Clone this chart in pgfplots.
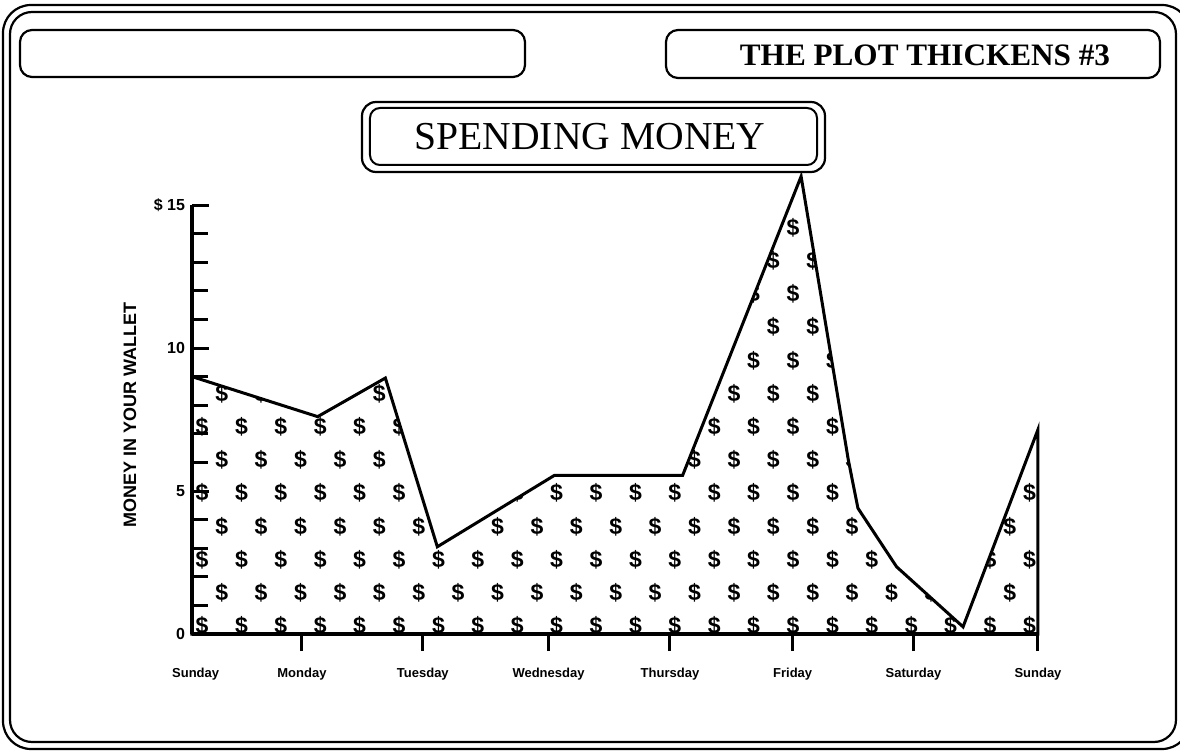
\documentclass[border=0pt]{standalone}
\usepackage{fontspec}
\setmainfont{Liberation Serif}
\newfontfamily\lsans{Liberation Sans}
\usepackage{pgfplots}
\usepackage{pgfplotstable}
\pgfplotsset{compat=1.18}
\usetikzlibrary{intersections}
\pgfdeclarelayer{background}
\pgfsetlayers{background,main}
\makeatletter
\tikzset{use named path/.code={\tikz@addmode{\expandafter\pgfsyssoftpath@setcurrentpath\csname tikz@intersect@path@name@#1\endcsname}}}
\makeatother

% money in wallet over the week (x in days from Sunday)
\pgfplotstableread{
x     y
0     9.0
1.04  7.6
1.60  8.95
2.03  3.05
3.00  5.55
4.06  5.55
5.04  16.0
5.43  6.1
5.51  4.4
5.83  2.35
6.38  0.25
7.00  7.15
}\spending

\begin{document}
\begin{tikzpicture}
% page frame and header boxes (pixel-like units)
\begin{scope}[x=0.5pt,y=-0.5pt,shift={(-192,-634)}]
  \useasboundingbox (0,0) rectangle (1180,751);
  \draw[line width=1.1pt, rounded corners=14pt] (3,5) rectangle (1190,749);
  \draw[line width=1.1pt, rounded corners=11pt] (10,12) rectangle (1176,742);
  \draw[line width=1.1pt, rounded corners=6pt] (20,30) rectangle (525,77);
  \draw[line width=1.1pt, rounded corners=6pt] (666,30) rectangle (1160,78);
  \node[font=\bfseries\fontsize{15.6}{15.6}\selectfont, inner sep=0pt] at (925,55) {THE PLOT THICKENS \#3};
  \draw[line width=1.1pt, rounded corners=7pt] (362,102) rectangle (825,172);
  \draw[line width=1.0pt, rounded corners=5pt] (370,108) rectangle (817,165);
  \node[font=\fontsize{19.8}{19.8}\selectfont, inner sep=0pt] at (590,137) {SPENDING MONEY};
\end{scope}

\begin{axis}[
  at={(0,0)}, anchor=south west,
  scale only axis, width=423pt, height=214.5pt,
  xmin=0, xmax=7, ymin=0, ymax=15,
  clip=false,
  axis x line=bottom, axis y line=left,
  axis line style={-, line width=2pt, black},
  xtick={0.91,1.91,2.95,3.955,4.97,5.97,7},
  xticklabels={Monday,Tuesday,Wednesday,Thursday,Friday,Saturday,Sunday},
  extra x ticks={0.03},
  extra x tick labels={Sunday},
  extra x tick style={tick style={draw=none}},
  ytick={0,5,10,15},
  yticklabels={0,5,10,{\$ 15}},
  minor ytick={1,2,3,4,6,7,8,9,11,12,13,14},
  xtick align=outside, ytick align=inside,
  major tick length=8.5pt, minor tick length=8pt,
  tick style={line width=1.5pt, black},
  xticklabel style={font=\lsans\bfseries\fontsize{6.5}{6.5}\selectfont, yshift=-5pt},
  yticklabel style={font=\lsans\bfseries\fontsize{8}{8}\selectfont},
  ylabel={MONEY IN YOUR WALLET},
  every axis y label/.style={at={(axis description cs:-0.0733,0.51)}, rotate=90, anchor=center, font=\lsans\bfseries\fontsize{9}{9}\selectfont},
]
\addplot[draw=black, line width=1.5pt, line join=miter, name path global=area] table[x=x,y=y] {\spending} \closedcycle;
\end{axis}

% dollar-sign fill texture, clipped to the area under the line
\begin{pgfonlayer}{background}
\begin{scope}
  \clip[use named path=area];
  \begin{scope}[x=0.5pt,y=-0.5pt,shift={(-192,-634)}]
    \foreach \k in {0,...,13} {
      \foreach \j in {0,...,21} {
        \pgfmathsetmacro\xx{202+39.4*\j+19.7*mod(\k,2)}
        \pgfmathsetmacro\yy{626-33.2*\k}
        \node[font=\lsans\bfseries\fontsize{11.5}{11.5}\selectfont, inner sep=0pt] at (\xx,\yy) {\$};
      }
    }
  \end{scope}
\end{scope}
\end{pgfonlayer}
\end{tikzpicture}
\end{document}
